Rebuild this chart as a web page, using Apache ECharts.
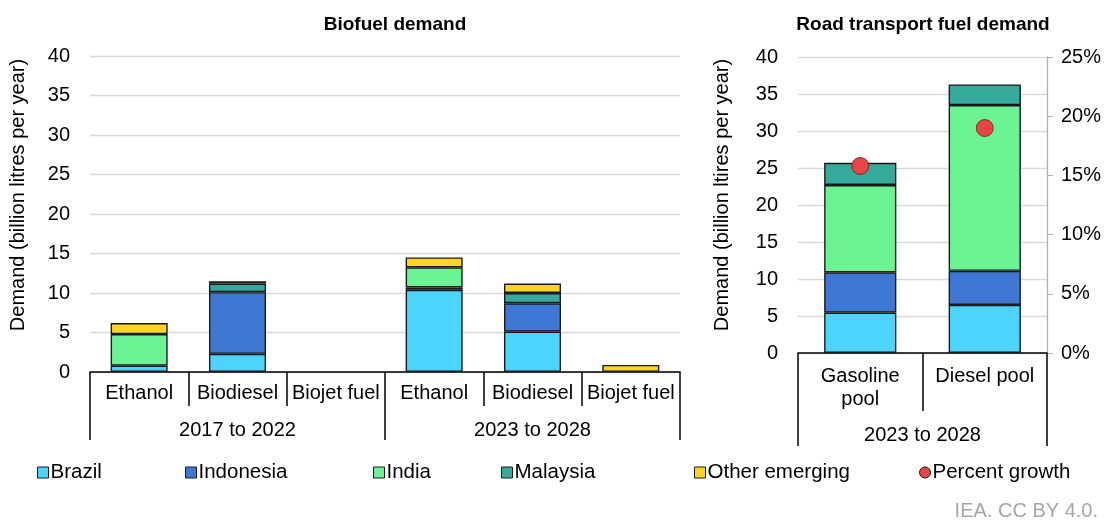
<!DOCTYPE html>
<html><head><meta charset="utf-8">
<script src="https://cdn.jsdelivr.net/npm/echarts@6/dist/echarts.min.js"></script>
<style>html,body{margin:0;padding:0;background:#fff}#c{width:1110px;height:521px}</style>
</head><body><div id="c"></div>
<script>
// ---- Data ----
const leftCategories = ["Ethanol","Biodiesel","Biojet fuel","Ethanol","Biodiesel","Biojet fuel"];
const leftGroups = ["2017 to 2022","2023 to 2028"];
const leftBrazil    = [0.8, 2.3, null, 10.4, 5.1, null];
const leftIndonesia = [null, 7.8, null, 0.3, 3.6, null];
const leftIndia     = [4.0, null, null, 2.55, null, null];
const leftMalaysia  = [null, 1.1, null, null, 1.3, null];
const leftOther     = [1.4, 0.3, null, 1.25, 1.2, 0.9];

const rightCategories = ["Gasoline\npool","Diesel pool"];
const rightGroups = ["2023 to 2028"];
const rightBrazil    = [5.45, 6.5];
const rightIndonesia = [5.45, 4.6];
const rightIndia     = [11.8, 22.4];
const rightMalaysia  = [3.0, 2.8];
const percentGrowth  = [15.8, 19.0];

const demandTicks = {min:0, max:40, interval:5};
const pctTicks = {min:0, max:25, interval:5};

// ---- Styles ----
const FONT = "Liberation Sans, Arial, sans-serif";
const colors = {Brazil:"#4cd4fe", Indonesia:"#3f78d4", India:"#6bf292", Malaysia:"#36aa9b", "Other emerging":"#fed424", "Percent growth":"#e84646"};
const border = {borderColor:"#1a1a1a", borderWidth:1.4};
const txt = {color:"#000", fontFamily:FONT, fontSize:20};

function barSeries(name, data, xi, yi){
  return {name, type:"bar", stack:"s"+xi, xAxisIndex:xi, yAxisIndex:yi, data,
    barWidth:"58%", itemStyle:Object.assign({color:colors[name]}, border)};
}
function valAxis(grid, ticks){
  return Object.assign({type:"value", gridIndex:grid,
    axisLine:{show:false}, axisTick:{show:false},
    splitLine:{lineStyle:{color:"#d9d9d9", width:1.3}},
    axisLabel:Object.assign({margin:20}, txt)}, ticks);
}

const legendNames = ["Brazil","Indonesia","India","Malaysia","Other emerging","Percent growth"];
const legendLeft = [32,180,368,496,689,914];
const legends = legendNames.map((n,i)=>({
  data:[{name:n, icon: n==="Percent growth" ? "circle" : "rect"}],
  left:legendLeft[i], top:457, itemWidth:11, itemHeight:11, itemGap:4,
  textStyle:Object.assign({}, txt, {fontSize:20.5, padding:[0,0,0,-3]}), selectedMode:false,
  itemStyle:{borderColor:"#1a1a1a", borderWidth:1}
}));

const lineBlack = {color:"#000", width:1.5};
const option = {
  animation:false,
  backgroundColor:"#fff",
  title:[
    {text:"Biofuel demand", left:390, top:10, textAlign:"center", textStyle:{fontFamily:FONT, fontSize:19, fontWeight:"bold", color:"#000"}},
    {text:"Road transport fuel demand", left:918, top:10, textAlign:"center", textStyle:{fontFamily:FONT, fontSize:19, fontWeight:"bold", color:"#000"}}
  ],
  legend:legends,
  grid:[
    {left:90, right:430, top:56, bottom:149},
    {left:798, right:63, top:57, bottom:168}
  ],
  xAxis:[
    {type:"category", gridIndex:0, data:leftCategories,
      axisLine:{lineStyle:lineBlack},
      axisTick:{show:true, interval:0, length:34, lineStyle:lineBlack},
      axisLabel:Object.assign({interval:0, margin:11}, txt)},
    {type:"category", gridIndex:0, data:leftGroups, position:"bottom", offset:34,
      axisLine:{show:false},
      axisTick:{show:true, interval:0, length:34, lineStyle:lineBlack},
      axisLabel:Object.assign({interval:0, margin:14}, txt)},
    {type:"category", gridIndex:1, data:rightCategories,
      axisLine:{lineStyle:lineBlack},
      axisTick:{show:true, interval:0, length:58, lineStyle:lineBlack},
      axisLabel:Object.assign({interval:0, margin:12, lineHeight:23}, txt)},
    {type:"category", gridIndex:1, data:rightGroups, position:"bottom", offset:58,
      axisLine:{show:false}, axisTick:{show:false},
      axisLabel:Object.assign({interval:0, margin:14}, txt)},
    // outer boundary lines of the right group
    {type:"value", gridIndex:1, min:0, max:1, interval:1, position:"bottom", offset:58,
      axisLine:{show:false}, splitLine:{show:false}, axisLabel:{show:false},
      axisTick:{show:true, length:35, lineStyle:lineBlack}}
  ],
  yAxis:[
    valAxis(0, demandTicks),
    valAxis(1, demandTicks),
    Object.assign({type:"value", gridIndex:1, position:"right",
      axisLine:{show:true, lineStyle:{color:"#b0b0b0", width:1.3}},
      axisTick:{show:true, inside:false, length:6, lineStyle:{color:"#b0b0b0"}},
      splitLine:{show:false},
      axisLabel:Object.assign({margin:14, formatter:"{value}%"}, txt)}, pctTicks)
  ],
  series:[
    barSeries("Brazil", leftBrazil, 0, 0),
    barSeries("Indonesia", leftIndonesia, 0, 0),
    barSeries("India", leftIndia, 0, 0),
    barSeries("Malaysia", leftMalaysia, 0, 0),
    barSeries("Other emerging", leftOther, 0, 0),
    barSeries("Brazil", rightBrazil, 2, 1),
    barSeries("Indonesia", rightIndonesia, 2, 1),
    barSeries("India", rightIndia, 2, 1),
    barSeries("Malaysia", rightMalaysia, 2, 1),
    {name:"Percent growth", type:"scatter", xAxisIndex:2, yAxisIndex:2, data:percentGrowth,
      symbol:"circle", symbolSize:17, z:5,
      itemStyle:{color:colors["Percent growth"], borderColor:"#6a1c1c", borderWidth:0.8, opacity:1}}
  ],
  graphic:[
    {type:"text", x:18, y:195, rotation:Math.PI/2,
      style:{text:"Demand (billion litres per year)", font:"20px "+FONT, fill:"#000", align:"center", verticalAlign:"middle"}},
    {type:"text", x:722, y:195, rotation:Math.PI/2,
      style:{text:"Demand (billion ltires per year)", font:"20px "+FONT, fill:"#000", align:"center", verticalAlign:"middle"}},
    {type:"text", right:12, top:501,
      style:{text:"IEA. CC BY 4.0.", font:"20px "+FONT, fill:"#a6a6a6"}}
  ]
};
const chart = echarts.init(document.getElementById("c"), null, {renderer:"canvas"});
chart.setOption(option);
</script></body></html>
